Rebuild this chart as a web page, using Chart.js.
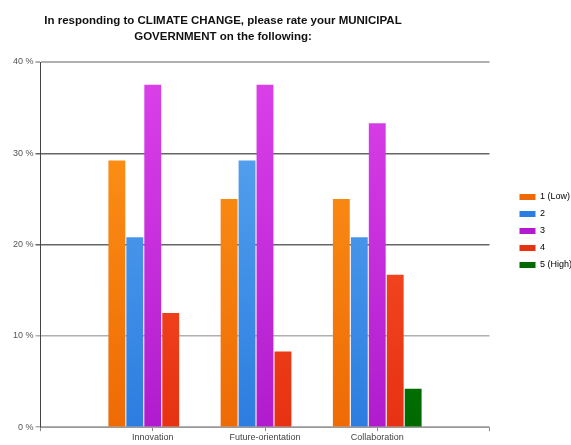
<!DOCTYPE html>
<html>
<head>
<meta charset="utf-8">
<script src="https://cdn.jsdelivr.net/npm/chart.js@4"></script>
<style>
  body { margin: 0; background: #fff; }
  #wrap { position: relative; width: 571px; height: 445px; }
  #title {
    position: absolute; left: 0; top: 12px; width: 446px;
    text-align: center; font: bold 11.5px "Liberation Sans", Arial, sans-serif;
    line-height: 16px; color: #111;
  }
</style>
</head>
<body>
<div id="wrap">
  <div id="title">In responding to CLIMATE CHANGE, please rate your MUNICIPAL<br>GOVERNMENT on the following:</div>
  <canvas id="chart"></canvas>
</div>
<script>
// categories (empty slots at both ends so groups sit on the axis ticks)
const categories = ['', 'Innovation', 'Future-orientation', 'Collaboration', ''];
const seriesNames = ['1 (Low)', '2', '3', '4', '5 (High)'];

// percent of respondents
const low1 = [null, 29.2, 25.0, 25.0, null];
const val2 = [null, 20.8, 29.2, 20.8, null];
const val3 = [null, 37.5, 37.5, 33.3, null];
const val4 = [null, 12.5, 8.3, 16.7, null];
const high5 = [null, 0, 0, 4.2, null];

const yTicks = [0, 10, 20, 30, 40];

// top / bottom colours of each series gradient
const palette = [
  ['#ff9a1a', '#ee6a05'],
  ['#5eaaf2', '#2c7de0'],
  ['#dc42ea', '#b01ccd'],
  ['#ff5a2e', '#e63212'],
  ['#138f13', '#006a00'],
];

function gradientFor(i) {
  return (ctx) => {
    const area = ctx.chart.chartArea;
    if (!area) return palette[i][1];
    const g = ctx.chart.ctx.createLinearGradient(0, area.top, 0, area.bottom);
    g.addColorStop(0, palette[i][0]);
    g.addColorStop(1, palette[i][1]);
    return g;
  };
}

const series = [low1, val2, val3, val4, high5];

const data = {
  labels: categories,
  datasets: series.map((vals, i) => ({
    label: seriesNames[i],
    data: vals,
    backgroundColor: gradientFor(i),
    borderWidth: 0,
    barPercentage: 0.94,
    categoryPercentage: 0.8,
  })),
};

// nudge the legend up and right, like the original
const legendShift = {
  id: 'legendShift',
  afterLayout(chart) {
    const l = chart.legend;
    l.top -= 22; l.bottom -= 22;
    l.left += 22; l.right += 22;
  },
};

new Chart(document.getElementById('chart'), {
  type: 'bar',
  data,
  plugins: [legendShift],
  options: {
    responsive: true,
    maintainAspectRatio: false,
    animation: false,
    layout: { padding: { top: 62, right: 11, left: 11, bottom: 1 } },
    plugins: {
      title: { display: false },
      tooltip: { enabled: false },
      legend: {
        position: 'right',
        labels: {
          boxWidth: 16,
          boxHeight: 6,
          padding: 8,
          color: '#444',
          font: { family: 'Liberation Sans', size: 9 },
          generateLabels: (chart) => seriesNames.map((name, i) => ({
            text: name,
            fillStyle: palette[i][1],
            strokeStyle: palette[i][1],
            lineWidth: 0,
            datasetIndex: i,
          })),
        },
      },
    },
    scales: {
      x: {
        offset: false,
        grid: {
          offset: false,
          drawOnChartArea: false,
          drawTicks: true,
          tickLength: 4,
          color: '#888',
        },
        border: { color: '#999', width: 1 },
        ticks: {
          color: '#444',
          font: { family: 'Liberation Sans', size: 9 },
          maxRotation: 0,
          autoSkip: false,
          padding: 1,
        },
      },
      y: {
        min: 0,
        max: 40,
        afterBuildTicks: (axis) => { axis.ticks = yTicks.map(v => ({ value: v })); },
        grid: {
          color: (c) => (c.tick && (c.tick.value === 20 || c.tick.value === 30)) ? '#666' : '#b0b0b0',
          lineWidth: (c) => (c.tick && c.tick.value === 40) ? 2 : 1.5,
          tickLength: 5,
        },
        border: { color: '#444', width: 1 },
        ticks: {
          color: '#555',
          font: { family: 'Liberation Sans', size: 9 },
          padding: 2,
          callback: (v) => v + ' %',
        },
      },
    },
  },
});
</script>
</body>
</html>
